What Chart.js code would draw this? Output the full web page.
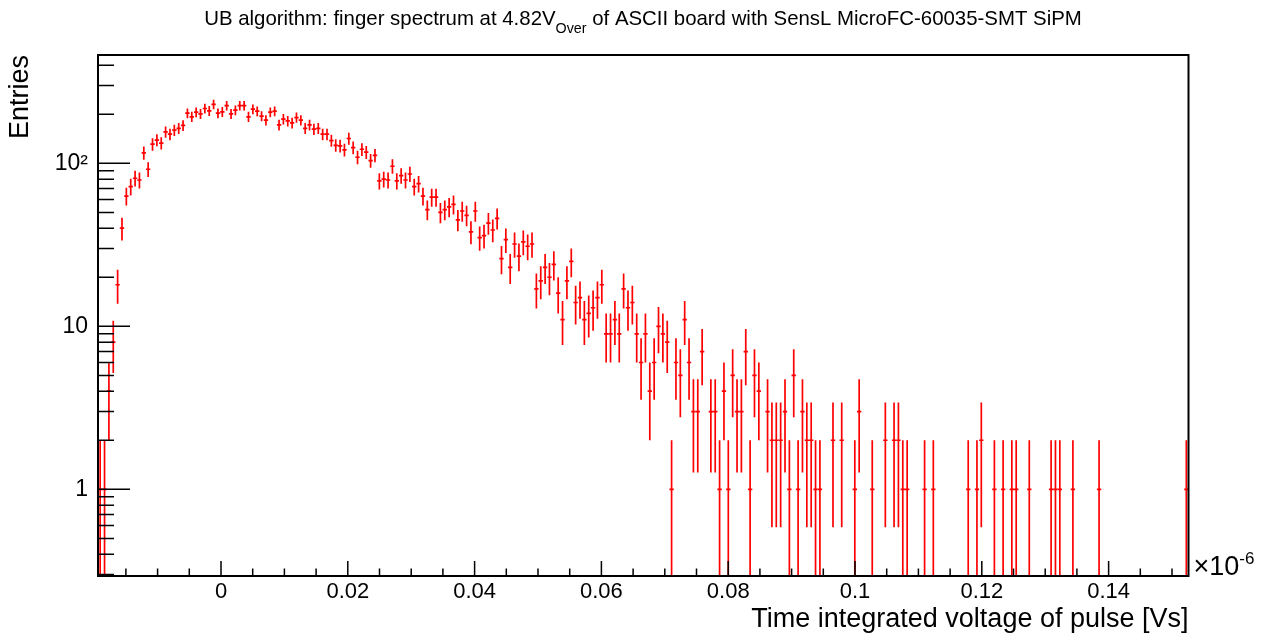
<!DOCTYPE html>
<html>
<head>
<meta charset="utf-8">
<script src="https://cdn.jsdelivr.net/npm/chart.js@4.4.1/dist/chart.umd.min.js"></script>
<style>
  html, body { margin: 0; padding: 0; background: #fff; }
</style>
</head>
<body>
<canvas id="chart" width="1271" height="640"></canvas>
<script>
// histogram binning, x in units of 1e-6 Vs
const nBins = 250;
const xLow = -0.0194;
const xHigh = 0.1526;

// entries per bin
const counts = [
  // bins 0-49
  1, 1, 4, 8, 18, 40, 63, 72, 81, 79,
  116, 92, 131, 139, 133, 156, 151, 160, 164, 171,
  203, 193, 206, 201, 217, 210, 230, 203, 207, 226,
  201, 212, 226, 226, 193, 215, 209, 195, 184, 206,
  209, 172, 187, 182, 177, 191, 184, 164, 172, 162,
  // bins 50-99
  164, 151, 151, 138, 129, 128, 121, 142, 125, 109,
  122, 117, 104, 112, 78, 80, 79, 96, 78, 84,
  79, 86, 72, 75, 63, 52, 62, 62, 50, 52,
  54, 56, 45, 51, 48, 38, 51, 35, 36, 43,
  39, 46, 26, 34, 23, 32, 27, 33, 31, 32,
  // bins 100-149
  17, 19, 23, 20, 24, 16, 11, 19, 25, 14,
  15, 11, 12, 13, 15, 18, 9, 9, 11, 9,
  17, 13, 14, 9, 6, 9, 4, 6, 10, 9,
  8, 1, 6, 5, 11, 6, 3, 3, 7, 0,
  3, 3, 1, 4, 1, 5, 3, 3, 7, 1,
  // bins 150-199
  5, 4, 0, 3, 2, 2, 2, 3, 1, 5,
  1, 3, 2, 2, 1, 1, 0, 0, 2, 0,
  2, 0, 0, 1, 3, 0, 0, 1, 0, 0,
  2, 0, 2, 2, 1, 1, 0, 0, 0, 1,
  0, 1, 0, 0, 0, 0, 0, 0, 0, 1,
  // bins 200-249
  0, 1, 2, 0, 0, 1, 0, 1, 0, 1,
  1, 0, 0, 1, 0, 0, 0, 0, 1, 1,
  1, 0, 0, 1, 0, 0, 0, 0, 0, 1,
  0, 0, 0, 0, 0, 0, 0, 0, 0, 0,
  0, 0, 0, 0, 0, 0, 0, 0, 0, 1
];

const xTicks = [0, 0.02, 0.04, 0.06, 0.08, 0.1, 0.12, 0.14];
const xTickLabels = ['0', '0.02', '0.04', '0.06', '0.08', '0.1', '0.12', '0.14'];
const yTicks = [1, 10, 100];
const yTickLabels = ['1', '10', '10\u00b2'];
const yMin = 0.294;
const yMax = 462;

const titleMain = 'UB algorithm: finger spectrum at 4.82V';
const titleSub = 'Over';
const titleEnd = ' of ASCII board with SensL MicroFC-60035-SMT SiPM';

const binWidth = (xHigh - xLow) / nBins;
const points = [];
counts.forEach((n, i) => {
    if (n > 0) points.push({ x: xLow + (i + 0.5) * binWidth, y: n });
});

const FONT = '"Liberation Sans", Arial, sans-serif';
Chart.defaults.font.family = FONT;
Chart.defaults.color = '#000';

// ROOT style: error crosses, inner tick marks, frame, title with subscript
const rootStyle = {
    id: 'rootStyle',
    afterDatasetsDraw(chart) {
        const ctx = chart.ctx;
        const a = chart.chartArea;
        const xs = chart.scales.x, ys = chart.scales.y;

        ctx.save();
        ctx.beginPath();
        ctx.rect(a.left, a.top, a.right - a.left, a.bottom - a.top);
        ctx.clip();
        ctx.strokeStyle = '#ff0000';
        ctx.lineWidth = 1.7;
        chart.data.datasets[0].data.forEach(p => {
            const px = xs.getPixelForValue(p.x);
            const py = ys.getPixelForValue(p.y);
            const e = Math.sqrt(p.y);
            const top = ys.getPixelForValue(p.y + e);
            const bot = p.y - e > 0 ? ys.getPixelForValue(p.y - e) : a.bottom;
            ctx.beginPath();
            ctx.moveTo(px, top);
            ctx.lineTo(px, bot);
            ctx.moveTo(xs.getPixelForValue(p.x - binWidth / 2), py);
            ctx.lineTo(xs.getPixelForValue(p.x + binWidth / 2), py);
            ctx.stroke();
        });
        ctx.restore();

        ctx.save();
        ctx.strokeStyle = '#000';
        ctx.lineWidth = 1.5;
        ctx.beginPath();
        // x ticks
        for (let k = -3; k <= 30; k++) {
            const v = k * 0.005;
            if (v < xLow || v > xHigh) continue;
            const px = xs.getPixelForValue(v);
            const len = k % 4 === 0 ? 15 : 7.5;
            ctx.moveTo(px, a.bottom);
            ctx.lineTo(px, a.bottom - len);
        }
        // y ticks
        [0.1, 1, 10, 100].forEach(dec => {
            for (let m = 1; m <= 9; m++) {
                const v = m * dec;
                if (v < yMin || v > yMax) continue;
                const py = ys.getPixelForValue(v);
                const len = m === 1 ? 32 : 16;
                ctx.moveTo(a.left, py);
                ctx.lineTo(a.left + len, py);
            }
        });
        ctx.stroke();
        ctx.lineWidth = 2;
        ctx.strokeRect(a.left, a.top, a.right - a.left, a.bottom - a.top);

        // exponent of x axis
        ctx.fillStyle = '#000';
        ctx.textBaseline = 'alphabetic';
        ctx.textAlign = 'left';
        ctx.font = '27px ' + FONT;
        ctx.fillText('\u00d710', a.right + 5, 575);
        const w = ctx.measureText('\u00d710').width;
        ctx.font = '17px ' + FONT;
        ctx.fillText('-6', a.right + 5 + w, 564);

        // title
        ctx.font = '20.4px ' + FONT;
        const w1 = ctx.measureText(titleMain).width;
        const w3 = ctx.measureText(titleEnd).width;
        ctx.font = '14.3px ' + FONT;
        const w2 = ctx.measureText(titleSub).width;
        let tx = 643 - (w1 + w2 + w3) / 2;
        ctx.font = '20.4px ' + FONT;
        ctx.fillText(titleMain, tx, 25);
        ctx.font = '14.3px ' + FONT;
        ctx.fillText(titleSub, tx + w1, 33);
        ctx.font = '20.4px ' + FONT;
        ctx.fillText(titleEnd, tx + w1 + w2, 25);
        ctx.restore();
    }
};

new Chart(document.getElementById('chart'), {
    type: 'scatter',
    data: {
        datasets: [{
            data: points,
            pointRadius: 0,
            pointHoverRadius: 0,
            borderColor: '#ff0000',
            backgroundColor: '#ff0000'
        }]
    },
    options: {
        responsive: false,
        animation: false,
        events: [],
        layout: { padding: { top: 55, right: 82.5, left: 0, bottom: 0 } },
        plugins: {
            legend: { display: false },
            tooltip: { enabled: false }
        },
        scales: {
            x: {
                type: 'linear',
                min: xLow,
                max: xHigh,
                afterBuildTicks: s => { s.ticks = xTicks.map(v => ({ value: v })); },
                afterFit: s => { s.height = 64; },
                grid: { display: false, drawTicks: false },
                border: { display: false },
                ticks: {
                    padding: 3,
                    maxRotation: 0,
                    autoSkip: false,
                    font: { size: 22 },
                    callback: (v, i) => xTickLabels[i]
                },
                title: {
                    display: true,
                    text: 'Time integrated voltage of pulse [Vs]',
                    align: 'end',
                    font: { size: 27 },
                    padding: { top: 0, bottom: 4 }
                }
            },
            y: {
                type: 'logarithmic',
                min: yMin,
                max: yMax,
                afterBuildTicks: s => { s.ticks = yTicks.map(v => ({ value: v })); },
                afterFit: s => { s.width = 98; },
                grid: { display: false, drawTicks: false },
                border: { display: false },
                ticks: {
                    padding: 10,
                    autoSkip: false,
                    font: { size: 23 },
                    callback: (v, i) => yTickLabels[i]
                },
                title: {
                    display: true,
                    text: 'Entries',
                    align: 'end',
                    font: { size: 27 },
                    padding: { top: 4, bottom: 0 }
                }
            }
        }
    },
    plugins: [rootStyle]
});
</script>
</body>
</html>
